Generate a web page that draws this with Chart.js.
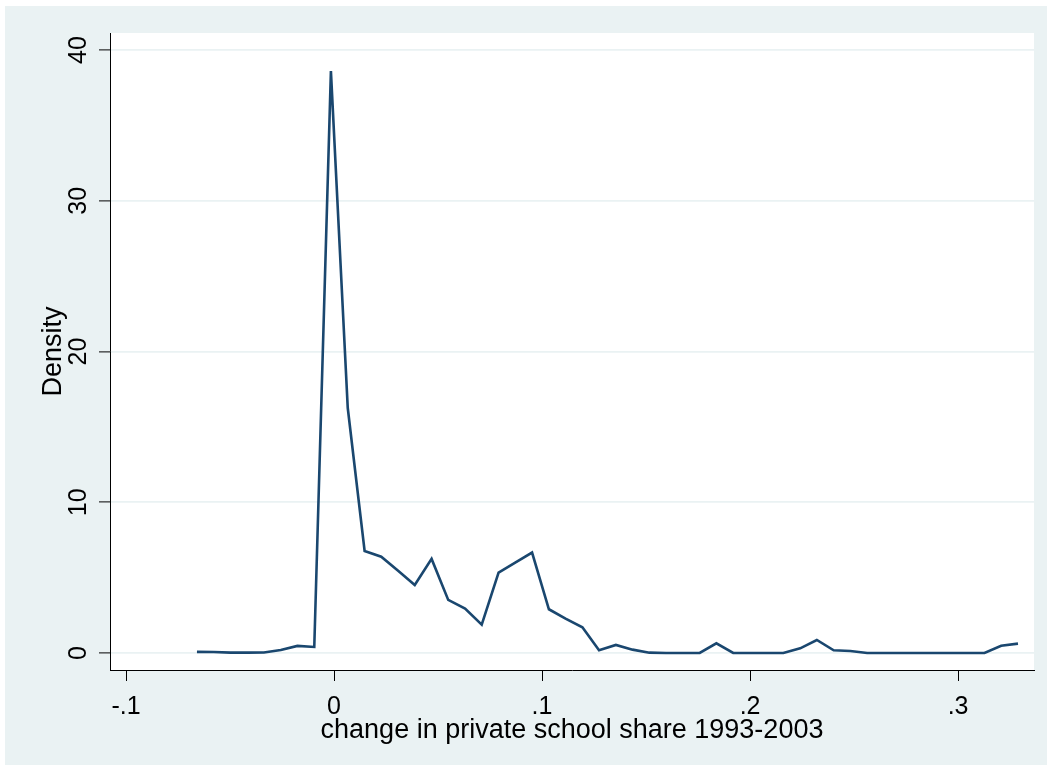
<!DOCTYPE html>
<html>
<head>
<meta charset="utf-8">
<script src="https://cdn.jsdelivr.net/npm/chart.js@4/dist/chart.umd.min.js"></script>
<style>
  html, body { margin: 0; padding: 0; background: #fff; }
  #wrap { width: 1052px; height: 770px; position: relative; }
</style>
</head>
<body>
<div id="wrap"><canvas id="density-graph"></canvas></div>
<script>
// kernel density points
const shareChange = [
  -0.0659, -0.0578, -0.0498, -0.0417, -0.0337, -0.0256, -0.0176, -0.0095, -0.0015, 0.0066,
  0.0147, 0.0227, 0.0308, 0.0388, 0.0469, 0.0549, 0.0630, 0.0710, 0.0791, 0.0871,
  0.0952, 0.1033, 0.1113, 0.1194, 0.1274, 0.1355, 0.1435, 0.1516, 0.1596, 0.1677,
  0.1758, 0.1838, 0.1919, 0.1999, 0.2080, 0.2160, 0.2241, 0.2321, 0.2402, 0.2482,
  0.2563, 0.2644, 0.2724, 0.2805, 0.2885, 0.2966, 0.3046, 0.3127, 0.3207, 0.3288
];
const density = [
  0.07, 0.06, 0.02, 0.02, 0.03, 0.20, 0.47, 0.40, 38.6, 16.25,
  6.77, 6.39, 5.45, 4.51, 6.24, 3.52, 2.94, 1.88, 5.33, 6.00,
  6.66, 2.90, 2.28, 1.70, 0.18, 0.53, 0.22, 0.02, 0.00, 0.00,
  0.00, 0.64, 0.00, 0.00, 0.00, 0.00, 0.31, 0.86, 0.18, 0.13,
  0.00, 0.00, 0.00, 0.00, 0.00, 0.00, 0.00, 0.00, 0.48, 0.62
];
const xTicks = [-0.1, 0, 0.1, 0.2, 0.3];
const xTickLabels = ['-.1', '0', '.1', '.2', '.3'];
const yTicks = [0, 10, 20, 30, 40];
const yTickLabels = ['0', '10', '20', '30', '40'];

const BG = '#eaf2f3';
const FONT = '"Liberation Sans", Arial, sans-serif';

const stataBackground = {
    id: 'stataBackground',
    beforeDraw(chart) {
        const ctx = chart.ctx;
        const a = chart.chartArea;
        ctx.save();
        ctx.fillStyle = '#ffffff';
        ctx.fillRect(0, 0, chart.width, chart.height);
        ctx.fillStyle = BG;
        ctx.fillRect(5, 6, 1042, 759);
        ctx.fillStyle = '#ffffff';
        ctx.fillRect(a.left, a.top, a.right - a.left, a.bottom - a.top);
        ctx.restore();
    }
};

// y labels are turned on their side, as Stata does
const rotatedYLabels = {
    id: 'rotatedYLabels',
    afterDraw(chart) {
        const ctx = chart.ctx;
        const y = chart.scales.y;
        ctx.save();
        ctx.fillStyle = '#000';
        ctx.font = '25px ' + FONT;
        ctx.textAlign = 'center';
        ctx.textBaseline = 'middle';
        yTicks.forEach((v, i) => {
            ctx.save();
            ctx.translate(79, y.getPixelForValue(v));
            ctx.rotate(-Math.PI / 2);
            ctx.fillText(yTickLabels[i], 0, 0);
            ctx.restore();
        });
        ctx.restore();
    }
};

const ctx = document.getElementById('density-graph').getContext('2d');
new Chart(ctx, {
    type: 'line',
    data: {
        datasets: [{
            label: 'Density',
            data: shareChange.map((x, i) => ({ x: x, y: density[i] })),
            borderColor: '#1a476f',
            borderWidth: 2.6,
            pointRadius: 0,
            tension: 0,
            fill: false
        }]
    },
    options: {
        responsive: true,
        maintainAspectRatio: false,
        animation: false,
        layout: {
            padding: { left: 0, top: 33, right: 18, bottom: 0 }
        },
        scales: {
            x: {
                type: 'linear',
                min: -0.1077,
                max: 0.3365,
                afterBuildTicks: (scale) => {
                    scale.ticks = xTicks.map(v => ({ value: v }));
                },
                afterFit: (scale) => { scale.height = 100; },
                grid: {
                    drawOnChartArea: false,
                    tickLength: 11,
                    tickColor: '#000',
                    tickWidth: 1
                },
                border: { display: true, color: '#000', width: 1 },
                ticks: {
                    autoSkip: false,
                    maxRotation: 0,
                    padding: 11,
                    color: '#000',
                    font: { family: FONT, size: 25 },
                    callback: (value) => {
                        const i = xTicks.findIndex(t => Math.abs(t - value) < 1e-9);
                        return i >= 0 ? xTickLabels[i] : '';
                    }
                },
                title: {
                    display: true,
                    text: 'change in private school share 1993-2003',
                    color: '#000',
                    font: { family: FONT, size: 27 },
                    padding: { top: 0, bottom: 23 }
                }
            },
            y: {
                type: 'linear',
                min: -1.13,
                max: 41.13,
                afterBuildTicks: (scale) => {
                    scale.ticks = yTicks.map(v => ({ value: v }));
                },
                afterFit: (scale) => { scale.width = 110; },
                grid: {
                    color: BG,
                    lineWidth: 1.8,
                    tickLength: 11,
                    tickColor: '#000',
                    tickWidth: 1
                },
                border: { display: true, color: '#000', width: 1 },
                ticks: { display: false },
                title: {
                    display: true,
                    text: 'Density',
                    color: '#000',
                    font: { family: FONT, size: 27 },
                    padding: { top: 37, bottom: 0 }
                }
            }
        },
        plugins: {
            legend: { display: false },
            tooltip: { enabled: false }
        }
    },
    plugins: [stataBackground, rotatedYLabels]
});
</script>
</body>
</html>
